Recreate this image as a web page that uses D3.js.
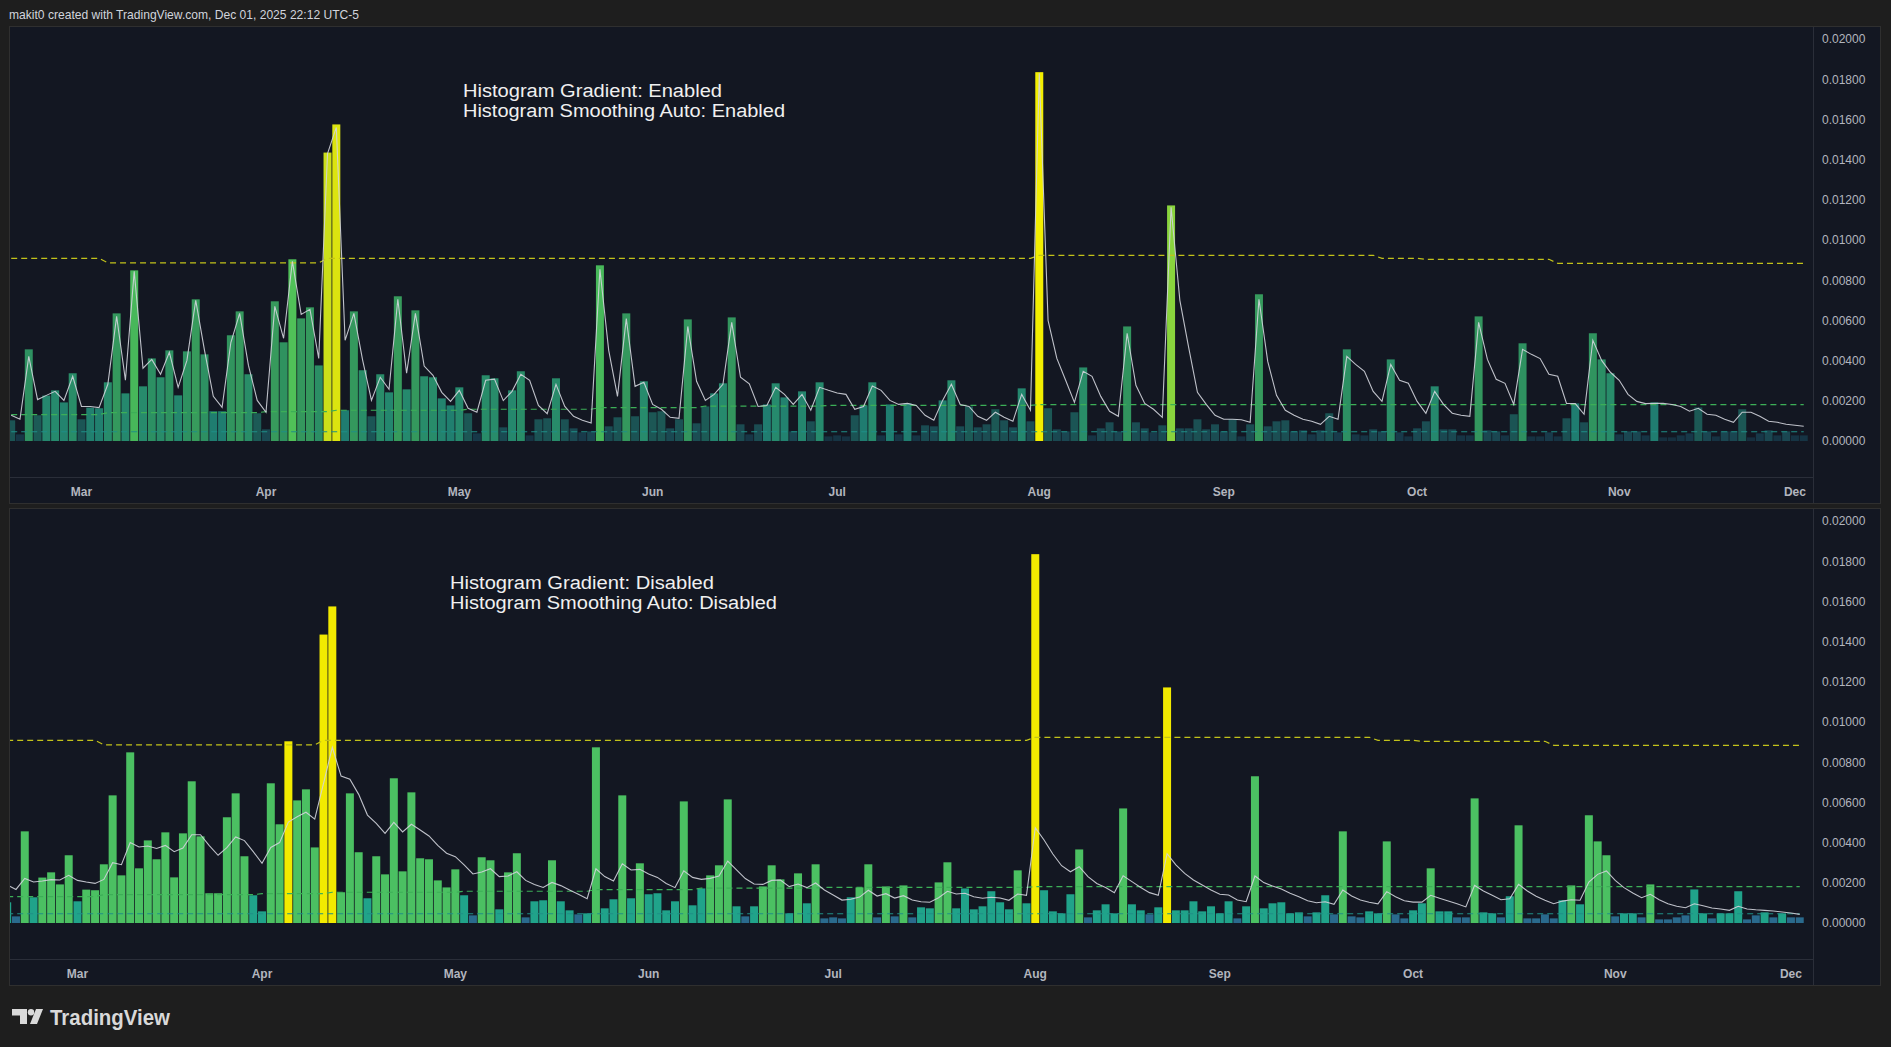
<!DOCTYPE html>
<html>
<meta charset="utf-8">
<script src="https://d3js.org/d3.v7.min.js"></script>
<style>
  body { margin: 0; background: #1e1e1e; }
  text { font-family: "Liberation Sans", Arial, sans-serif; }
</style>
<body>
<script>

// ---- data ----
var firstDay = "2025-02-19", lastDay = "2025-12-02";   // weekday bars
var monthLabels = ["Mar", "Apr", "May", "Jun", "Jul", "Aug", "Sep", "Oct", "Nov", "Dec"];
var priceTicks = [0, 0.002, 0.004, 0.006, 0.008, 0.010, 0.012, 0.014, 0.016, 0.018, 0.020];

var bars = [
  0.00103,0.00033,0.00456,0.00128,0.00226,0.00252,0.00192,0.00337,0.00108,0.00166,
  0.00163,0.00292,0.00635,0.00237,0.00849,0.00272,0.00411,0.00317,0.00451,0.00227,
  0.00446,0.00705,0.00431,0.00148,0.00148,0.00526,0.00645,0.00332,0.00138,0.00058,
  0.00695,0.00491,0.00904,0.00610,0.00665,0.00376,0.01435,0.01575,0.00153,0.00645,
  0.00352,0.00123,0.00332,0.00242,0.00720,0.00257,0.00650,0.00322,0.00317,0.00212,
  0.00177,0.00267,0.00138,0.00038,0.00327,0.00312,0.00068,0.00252,0.00347,0.00028,
  0.00108,0.00113,0.00312,0.00108,0.00063,0.00043,0.00048,0.00874,0.00073,0.00118,
  0.00635,0.00123,0.00297,0.00143,0.00148,0.00063,0.00108,0.00605,0.00088,0.00172,
  0.00237,0.00287,0.00615,0.00083,0.00033,0.00083,0.00182,0.00287,0.00217,0.00048,
  0.00247,0.00098,0.00292,0.00023,0.00028,0.00023,0.00128,0.00177,0.00292,0.00028,
  0.00182,0.00033,0.00187,0.00028,0.00078,0.00073,0.00202,0.00302,0.00073,0.00172,
  0.00068,0.00083,0.00158,0.00103,0.00068,0.00262,0.00098,0.01835,0.00163,0.00058,
  0.00048,0.00143,0.00366,0.00028,0.00063,0.00093,0.00048,0.00570,0.00093,0.00063,
  0.00043,0.00078,0.01172,0.00063,0.00063,0.00108,0.00058,0.00083,0.00048,0.00108,
  0.00023,0.00083,0.00730,0.00073,0.00098,0.00103,0.00048,0.00053,0.00033,0.00053,
  0.00138,0.00043,0.00456,0.00033,0.00028,0.00058,0.00048,0.00406,0.00043,0.00023,
  0.00063,0.00098,0.00272,0.00058,0.00058,0.00028,0.00028,0.00620,0.00053,0.00048,
  0.00028,0.00133,0.00486,0.00023,0.00023,0.00043,0.00023,0.00113,0.00187,0.00093,
  0.00536,0.00406,0.00337,0.00033,0.00048,0.00048,0.00028,0.00192,0.00018,0.00018,
  0.00028,0.00038,0.00167,0.00048,0.00023,0.00048,0.00048,0.00158,0.00018,0.00038,
  0.00053,0.00028,0.00048,0.00028,0.00028
];

// white line, smoothing auto enabled (top pane)
var smoothOn = [
  0.00128,0.00108,0.00421,0.00206,0.00227,0.00247,0.00202,0.00322,0.00172,0.00172,
  0.00166,0.00282,0.00620,0.00302,0.00844,0.00362,0.00406,0.00332,0.00441,0.00267,
  0.00401,0.00700,0.00451,0.00222,0.00167,0.00490,0.00635,0.00376,0.00202,0.00143,
  0.00670,0.00511,0.00894,0.00630,0.00655,0.00411,0.01430,0.01560,0.00501,0.00635,
  0.00401,0.00202,0.00317,0.00257,0.00705,0.00337,0.00635,0.00373,0.00327,0.00242,
  0.00197,0.00252,0.00163,0.00143,0.00302,0.00308,0.00201,0.00247,0.00332,0.00302,
  0.00177,0.00136,0.00282,0.00172,0.00123,0.00103,0.00090,0.00854,0.00451,0.00222,
  0.00609,0.00272,0.00292,0.00182,0.00158,0.00118,0.00113,0.00570,0.00297,0.00202,
  0.00232,0.00282,0.00590,0.00317,0.00284,0.00172,0.00177,0.00267,0.00232,0.00182,
  0.00232,0.00153,0.00267,0.00252,0.00239,0.00232,0.00158,0.00172,0.00274,0.00252,
  0.00202,0.00182,0.00187,0.00177,0.00128,0.00103,0.00202,0.00282,0.00182,0.00172,
  0.00123,0.00103,0.00143,0.00118,0.00098,0.00232,0.00153,0.01830,0.00600,0.00411,
  0.00302,0.00192,0.00347,0.00322,0.00222,0.00148,0.00123,0.00536,0.00277,0.00187,
  0.00158,0.00118,0.01163,0.00700,0.00466,0.00242,0.00182,0.00128,0.00108,0.00108,
  0.00106,0.00093,0.00705,0.00396,0.00227,0.00153,0.00128,0.00108,0.00098,0.00083,
  0.00123,0.00108,0.00421,0.00381,0.00347,0.00247,0.00197,0.00381,0.00302,0.00287,
  0.00197,0.00138,0.00247,0.00182,0.00138,0.00128,0.00123,0.00590,0.00406,0.00307,
  0.00287,0.00182,0.00456,0.00431,0.00410,0.00332,0.00322,0.00187,0.00186,0.00133,
  0.00501,0.00401,0.00342,0.00302,0.00232,0.00197,0.00186,0.00187,0.00187,0.00182,
  0.00172,0.00148,0.00163,0.00133,0.00128,0.00108,0.00093,0.00143,0.00143,0.00123,
  0.00098,0.00093,0.00083,0.00078,0.00073
];

// white line, smoothing auto disabled (bottom pane)
var smoothOff = [
  0.00189,0.00167,0.00222,0.00204,0.00209,0.00216,0.00214,0.00237,0.00212,0.00204,
  0.00197,0.00217,0.00300,0.00290,0.00400,0.00378,0.00383,0.00371,0.00386,0.00355,
  0.00373,0.00439,0.00439,0.00385,0.00337,0.00375,0.00428,0.00410,0.00355,0.00297,
  0.00376,0.00400,0.00502,0.00529,0.00551,0.00517,0.00695,0.00874,0.00731,0.00715,
  0.00640,0.00537,0.00496,0.00446,0.00501,0.00453,0.00491,0.00463,0.00433,0.00386,
  0.00347,0.00330,0.00289,0.00244,0.00254,0.00270,0.00231,0.00234,0.00255,0.00212,
  0.00192,0.00177,0.00202,0.00186,0.00164,0.00143,0.00121,0.00270,0.00231,0.00209,
  0.00295,0.00264,0.00267,0.00244,0.00227,0.00197,0.00176,0.00260,0.00227,0.00217,
  0.00222,0.00234,0.00308,0.00264,0.00221,0.00194,0.00192,0.00212,0.00214,0.00181,
  0.00194,0.00176,0.00199,0.00164,0.00139,0.00114,0.00118,0.00129,0.00163,0.00134,
  0.00146,0.00124,0.00136,0.00114,0.00106,0.00103,0.00126,0.00158,0.00144,0.00148,
  0.00131,0.00123,0.00128,0.00124,0.00113,0.00144,0.00138,0.00474,0.00413,0.00343,
  0.00285,0.00255,0.00280,0.00231,0.00197,0.00177,0.00151,0.00235,0.00206,0.00177,
  0.00151,0.00138,0.00345,0.00289,0.00247,0.00214,0.00189,0.00164,0.00143,0.00139,
  0.00114,0.00106,0.00234,0.00201,0.00184,0.00169,0.00148,0.00131,0.00111,0.00101,
  0.00106,0.00093,0.00164,0.00134,0.00114,0.00103,0.00095,0.00156,0.00131,0.00111,
  0.00104,0.00104,0.00138,0.00123,0.00109,0.00096,0.00080,0.00187,0.00159,0.00138,
  0.00116,0.00121,0.00192,0.00159,0.00133,0.00113,0.00096,0.00109,0.00116,0.00113,
  0.00204,0.00242,0.00259,0.00212,0.00176,0.00149,0.00126,0.00143,0.00116,0.00096,
  0.00083,0.00076,0.00096,0.00086,0.00075,0.00070,0.00063,0.00083,0.00070,0.00066,
  0.00063,0.00060,0.00055,0.00050,0.00043
];

// dashed threshold levels, as steps (bar number where a level starts)
var yellowStart = [1, 12, 37, 118, 157, 162, 177];
var yellowLevel = [0.00909, 0.00886, 0.00909, 0.00924, 0.00909, 0.00904, 0.00884];
var greenStart  = [1, 12, 30, 38, 53, 68, 80, 94, 118];
var greenLevel  = [0.00131, 0.00141, 0.00146, 0.00153, 0.00158, 0.00166, 0.00174, 0.00177, 0.00181];
var tealStart   = [1];
var tealLevel   = [0.00046];

// ---------------------------------
var W = 1891, H = 1047;
var plotL = 10, plotR = 1813, paneR = 1881, paneH = 477;
var step = 8.787;

var parse = d3.timeParse("%Y-%m-%d");
var days = d3.timeDay.range(parse(firstDay), d3.timeDay.offset(parse(lastDay), 1))
  .filter(function(d) { return d.getDay() % 6 != 0; });
var monthDays = days.filter(function(d, i) { return i > 0 && d.getMonth() != days[i - 1].getMonth(); });

function stepSeries(starts, levels) {
  return days.map(function(d, i) {
    var k = d3.bisectRight(starts, i + 1) - 1;
    return levels[k];
  });
}
var yellowS = stepSeries(yellowStart, yellowLevel);
var greenS = stepSeries(greenStart, greenLevel);
var tealS = stepSeries(tealStart, tealLevel);

var belowTeal = d3.scaleLinear().domain([0, 1]).range(["#142838", "#183b4b"]);
var belowGreen = d3.scaleLinear().domain([0, 1]).range(["#1a4651", "#1c5b56"]);
var belowYellow = d3.scaleLinear().domain([0, 0.15, 0.45, 0.8, 1])
  .range(["#1f7c70", "#268a6d", "#2f925f", "#389c5c", "#4cc05a"]);
var aboveYellow = d3.scaleLinear().domain([0, 0.3, 0.6, 1])
  .range(["#4cc05a", "#8fd63a", "#d2e015", "#f2ee00"]);
var maxBar = d3.max(bars);

function gradientColor(v, i) {
  var t = tealS[i], g = greenS[i], y = yellowS[i];
  if (v >= y) return aboveYellow(Math.min(1, (v - y) / (maxBar - y)));
  if (v >= g) return belowYellow((v - g) / (y - g));
  if (v >= t) return belowGreen((v - t) / (g - t));
  return belowTeal(v / t);
}
function flatColor(v, i) {
  if (v >= yellowS[i]) return "#f2ea00";
  if (v >= greenS[i]) return "#4bc062";
  if (v >= tealS[i]) return "#20a38a";
  return "#2a6a8d";
}

var panes = [
  { top: 27, x0: 6.8, line: smoothOn, color: gradientColor,
    note: ["Histogram Gradient: Enabled", "Histogram Smoothing Auto: Enabled"],
    noteX: 463, noteY: 97, noteW: [259, 322] },
  { top: 509, x0: 2.8, line: smoothOff, color: flatColor,
    note: ["Histogram Gradient: Disabled", "Histogram Smoothing Auto: Disabled"],
    noteX: 450, noteY: 589, noteW: [264, 327] }
];

var svg = d3.select("body").append("svg")
  .attr("width", W)
  .attr("height", H);

svg.append("rect").attr("width", W).attr("height", H).attr("fill", "#1e1e1e");

svg.append("text")
  .attr("x", 9).attr("y", 19)
  .attr("fill", "#d1d4dc")
  .style("font-size", "13px")
  .attr("textLength", 350)
  .attr("lengthAdjust", "spacingAndGlyphs")
  .text("makit0 created with TradingView.com, Dec 01, 2025 22:12 UTC-5");

panes.forEach(function(p, pi) {
  var top = p.top;
  var g = svg.append("g");

  g.append("rect")
    .attr("x", plotL - 0.5).attr("y", top - 0.5)
    .attr("width", paneR - plotL).attr("height", paneH)
    .attr("fill", "#131722")
    .attr("stroke", "#2f2f2f");
  g.append("line")
    .attr("x1", plotR + 0.5).attr("x2", plotR + 0.5)
    .attr("y1", top).attr("y2", top + paneH - 1)
    .attr("stroke", "#2a2e39");
  g.append("line")
    .attr("x1", plotL).attr("x2", plotR)
    .attr("y1", top + 450.5).attr("y2", top + 450.5)
    .attr("stroke", "#2a2e39");

  svg.append("clipPath").attr("id", "clip" + pi)
    .append("rect")
    .attr("x", plotL).attr("y", top)
    .attr("width", plotR - plotL).attr("height", 450);

  var x = d3.scaleBand()
    .domain(days)
    .range([p.x0, p.x0 + days.length * step])
    .paddingInner(0.09)
    .paddingOuter(0.045);
  var y = d3.scaleLinear().domain([0, 0.02]).range([top + 414, top + 12]);
  var bw = x.bandwidth();
  var cx = function(d, i) { return x(days[i]) + bw / 2; };

  var plot = g.append("g").attr("clip-path", "url(#clip" + pi + ")");

  plot.selectAll("rect.bar")
    .data(bars)
    .enter().append("rect")
    .attr("class", "bar")
    .attr("x", function(d, i) { return x(days[i]); })
    .attr("y", function(d) { return y(d); })
    .attr("width", bw)
    .attr("height", function(d) { return y(0) - y(d); })
    .attr("fill", function(d, i) { return p.color(d, i); });

  var lineGen = d3.line().x(cx).y(function(d) { return y(d); });

  plot.append("path").datum(tealS)
    .attr("d", lineGen).attr("fill", "none")
    .attr("stroke", "#1f8e86").attr("stroke-width", 1.2)
    .attr("stroke-dasharray", "6,4");
  plot.append("path").datum(greenS)
    .attr("d", lineGen).attr("fill", "none")
    .attr("stroke", "#3cae57").attr("stroke-width", 1.2)
    .attr("stroke-dasharray", "6,4");
  plot.append("path").datum(yellowS)
    .attr("d", lineGen).attr("fill", "none")
    .attr("stroke", "#c2c21a").attr("stroke-width", 1.2)
    .attr("stroke-dasharray", "6,4");

  plot.append("path").datum(p.line)
    .attr("d", lineGen).attr("fill", "none")
    .attr("stroke", "#d1d4dc").attr("stroke-opacity", 0.9)
    .attr("stroke-width", 1.1);

  // price axis
  var yAx = d3.axisRight(y)
    .tickValues(priceTicks)
    .tickFormat(d3.format(".5f"))
    .tickSize(0)
    .tickPadding(9);
  g.append("g")
    .attr("transform", "translate(" + plotR + ",0)")
    .call(yAx)
    .call(function(a) { a.select(".domain").remove(); })
    .selectAll("text")
    .attr("fill", "#b2b5be")
    .style("font-size", "12px")
    .style("font-family", "Liberation Sans, Arial, sans-serif");

  // time axis
  var xAx = d3.axisBottom(x)
    .tickValues(monthDays)
    .tickFormat(function(d, i) { return monthLabels[i]; })
    .tickSize(0)
    .tickPadding(10);
  g.append("g")
    .attr("transform", "translate(0," + (top + 450) + ")")
    .call(xAx)
    .call(function(a) { a.select(".domain").remove(); })
    .selectAll("text")
    .attr("fill", "#b2b5be")
    .style("font-size", "12px")
    .style("font-weight", "bold")
    .style("font-family", "Liberation Sans, Arial, sans-serif");

  p.note.forEach(function(t, k) {
    g.append("text")
      .attr("x", p.noteX).attr("y", p.noteY + k * 20)
      .attr("fill", "#f0f0f0")
      .style("font-size", "18px")
      .attr("textLength", p.noteW[k])
      .attr("lengthAdjust", "spacingAndGlyphs")
      .text(t);
  });
});

// TradingView mark
var logo = svg.append("g").attr("fill", "#d9d9d9");
logo.append("path").attr("d", "M12,1009 H27 V1024 H20 V1015.5 H12 Z");
logo.append("circle").attr("cx", 31).attr("cy", 1012.3).attr("r", 3.2);
logo.append("path").attr("d", "M36,1009 H43 L37,1024 H30 Z");
logo.append("text")
  .attr("x", 50).attr("y", 1025)
  .style("font-size", "22px")
  .style("font-weight", "bold")
  .attr("textLength", 120)
  .attr("lengthAdjust", "spacingAndGlyphs")
  .text("TradingView");

</script>
</body>
</html>
